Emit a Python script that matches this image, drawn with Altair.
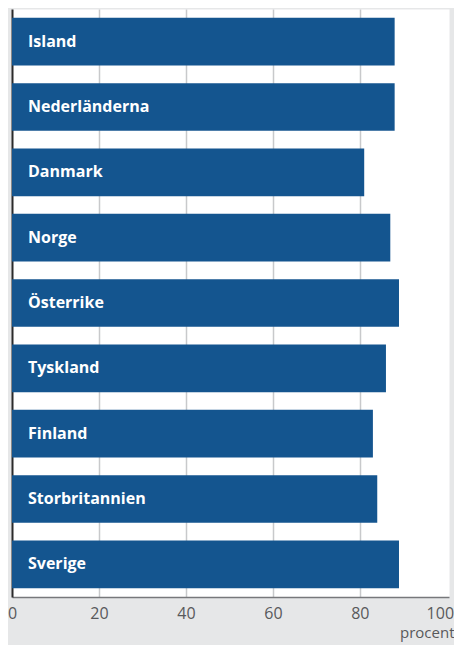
import altair as alt
import pandas as pd

countries = ["Island", "Nederländerna", "Danmark", "Norge", "Österrike",
             "Tyskland", "Finland", "Storbritannien", "Sverige"]
values = [88, 88, 81, 87, 89, 86, 83, 84, 89]
tick_values = [0, 20, 40, 60, 80, 100]

df = pd.DataFrame({"land": countries, "procent": values})

base = alt.Chart(df)

y_enc = alt.Y(
    "land:N",
    sort=countries,
    scale=alt.Scale(paddingInner=0.27, paddingOuter=0.135),
    axis=alt.Axis(labels=False, ticks=False, title=None, grid=False,
                  domainColor="#2b2b2b", domainWidth=2),
)

bars = base.mark_bar(color="#14558f").encode(
    x=alt.X(
        "procent:Q",
        scale=alt.Scale(domain=[0, 100.5], nice=False, zero=True),
        axis=alt.Axis(
            values=tick_values,
            title="procent",
            grid=True,
            gridColor="#c8c9cb",
            gridWidth=1.5,
            gridOpacity={"condition": {"test": "datum.value == 100 || datum.value == 0", "value": 0}, "value": 1},
            ticks=False,
            domainColor="#77787b",
            domainWidth=1.5,
            labelFlush=False,
            labelFont="Open Sans",
            labelFontSize=16,
            labelColor="#58595b",
            labelPadding=8,
            labelOffset={"condition": {"test": "datum.value == 100", "value": -7}, "value": 0},
            titleFont="Open Sans",
            titleFontSize=15,
            titleFontWeight="normal",
            titleColor="#58595b",
            titleAnchor="end",
            titleAlign="right",
            titleBaseline="alphabetic",
            titleX=442,
            titleY=40,
        ),
    ),
    y=y_enc,
)

text = base.mark_text(
    align="left", baseline="middle", color="white",
    font="Open Sans", fontWeight="bold", fontSize=16,
).encode(
    x=alt.value(16),
    y=alt.Y("land:N", sort=countries),
    text="land:N",
)

chart = alt.layer(bars, text).properties(
    width=437,
    height=588,
    background="#e6e7e8",
    padding={"left": 4, "top": 1, "right": 5, "bottom": 48},
    autosize="none",
).configure_view(fill="white", strokeOpacity=0)

chart.save("out.html", embed_options={"renderer": "svg", "actions": False})
